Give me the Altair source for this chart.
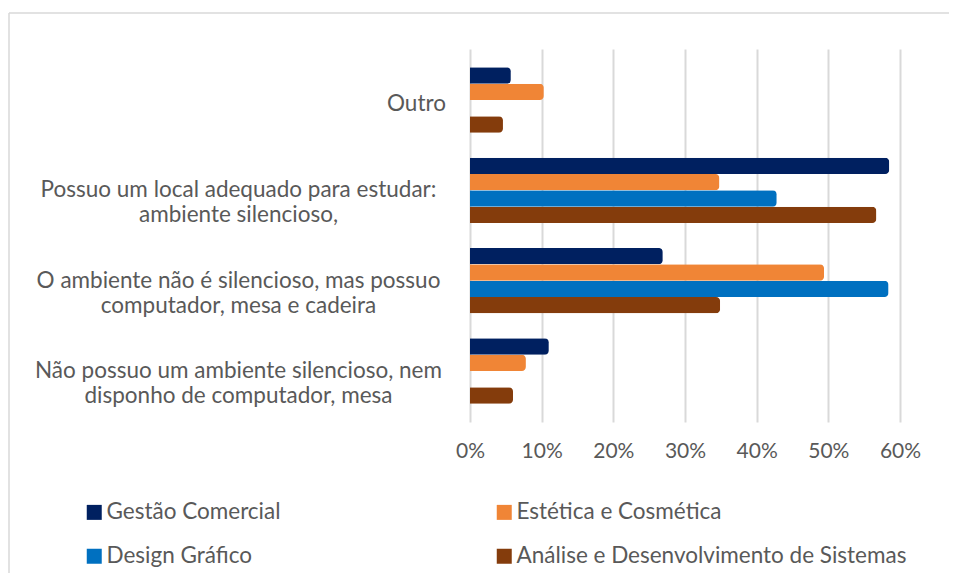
import altair as alt
import pandas as pd

categories = [
    "Outro",
    "Possuo um local adequado para estudar:|ambiente silencioso,",
    "O ambiente não é silencioso, mas possuo|computador, mesa e cadeira",
    "Não possuo um ambiente silencioso, nem|disponho de computador, mesa",
]
series = [
    "Gestão Comercial",
    "Estética e Cosmética",
    "Design Gráfico",
    "Análise e Desenvolvimento de Sistemas",
]
colors = ["#002060", "#F08536", "#0070C0", "#843C0C"]

gestao = [0.057, 0.585, 0.269, 0.110]
estetica = [0.103, 0.348, 0.494, 0.078]
design = [0.0, 0.428, 0.584, 0.0]
analise = [0.046, 0.567, 0.349, 0.060]

rows = []
for s, vals in zip(series, [gestao, estetica, design, analise]):
    for c, v in zip(categories, vals):
        rows.append({"categoria": c, "curso": s, "valor": v})
df = pd.DataFrame(rows)

FONT = "Lato"
GREY = "#595959"

bars = alt.Chart(df).mark_bar(cornerRadiusEnd=4).encode(
    x=alt.X(
        "valor:Q",
        scale=alt.Scale(domain=[0, 0.6], nice=False),
        axis=alt.Axis(
            format="%",
            values=[0, 0.1, 0.2, 0.3, 0.4, 0.5, 0.6],
            grid=True,
            gridColor="#D9D9D9",
            gridWidth=2,
            domain=False,
            ticks=False,
            labelFlush=False,
            labelFont=FONT,
            labelFontSize=21,
            labelColor=GREY,
            labelPadding=18,
            title=None,
        ),
    ),
    y=alt.Y(
        "categoria:N",
        sort=categories,
        scale=alt.Scale(paddingInner=0.276, paddingOuter=0.203),
        axis=alt.Axis(
            title=None,
            domain=False,
            ticks=False,
            grid=False,
            labelExpr="split(datum.label, '|')",
            labelAlign="center",
            labelBaseline="middle",
            labelFont=FONT,
            labelFontSize=22.5,
            labelColor=GREY,
            labelLineHeight=25,
            labelOffset={"condition": {"test": "datum.value === 'Outro'", "value": 4}, "value": 0},
            labelLimit=500,
            labelPadding={"condition": {"test": "datum.value === 'Outro'", "value": 54}, "value": 232},
        ),
    ),
    yOffset=alt.YOffset("curso:N", sort=series, scale=alt.Scale(paddingInner=0, paddingOuter=0)),
    color=alt.Color(
        "curso:N",
        sort=series,
        scale=alt.Scale(domain=series, range=colors),
        legend=alt.Legend(
            title=None,
            orient="none",
            direction="horizontal",
            legendX=-387,
            legendY=452,
            columns=2,
            columnPadding=212,
            rowPadding=21,
            symbolType="square",
            symbolSize=225,
            symbolStrokeWidth=0,
            labelFont=FONT,
            labelFontSize=22.5,
            labelColor=GREY,
            labelOffset=1,
            labelLimit=500,
        ),
    ),
)

frame_df = pd.DataFrame({"k": [0]})
top_line = alt.Chart(frame_df).mark_rule(color="#D9D9D9", strokeWidth=1.5).encode(
    x=alt.value(-461), x2=alt.value(487), y=alt.value(-36)
)
left_line = alt.Chart(frame_df).mark_rule(color="#D9D9D9", strokeWidth=1.5).encode(
    x=alt.value(-461), y=alt.value(-36), y2=alt.value(540)
)

chart = alt.layer(bars, top_line, left_line).properties(
    width=430,
    height=373,
    autosize=alt.AutoSizeParams(type="none"),
    padding={"left": 462, "top": 41, "right": 49, "bottom": 151},
).configure_view(stroke=None)

chart.save("out.html", embed_options={"renderer": "svg", "actions": False})
